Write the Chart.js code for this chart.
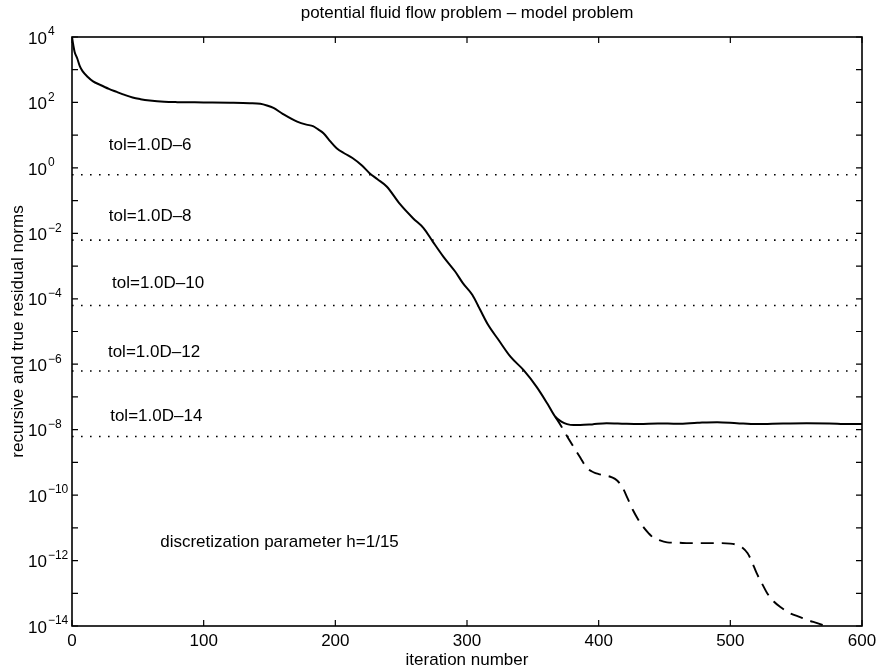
<!DOCTYPE html>
<html>
<head>
<meta charset="utf-8">
<script src="https://cdn.jsdelivr.net/npm/chart.js@4.4.1/dist/chart.umd.min.js"></script>
<style>
  html, body { margin: 0; padding: 0; background: #fff; }
  canvas { display: block; }
</style>
</head>
<body>
<canvas id="resChart" width="879" height="670"></canvas>
<script>
const FONT = '"Liberation Sans", Arial, Helvetica, sans-serif';

// recursive residual norm (solid line)
const recIter = [0, 1, 2, 4, 6, 8, 12, 16, 21, 28, 34, 40, 46, 52, 59, 70, 80, 100, 120, 135, 143, 148,
  153, 160, 171, 178, 183, 187, 191, 196, 201, 207, 213, 220, 226, 232, 239, 249, 259, 267, 274, 282,
  291, 297, 304, 310, 316, 324, 333, 343, 353, 361, 367, 372, 376, 381, 386, 395, 406, 420, 431, 445,
  460, 475, 490, 505, 520, 540, 558, 575, 590, 600];
const recNorm = [1e4, 5.6e3, 3.5e3, 2.2e3, 1.26e3, 9.1e2, 6.0e2, 4.4e2, 3.5e2, 2.6e2, 2.1e2, 1.7e2, 1.41e2, 1.26e2, 1.15e2, 1.05e2, 1.02e2, 1.0e2, 98, 95, 91, 81,
  68, 45, 26, 21, 19, 15, 11.5, 6.6, 4.0, 2.75, 2.0, 1.2, 0.69, 0.45, 0.27, 0.079, 0.029, 0.0145, 5.6e-3, 1.95e-3,
  6.8e-4, 2.95e-4, 1.32e-4, 4.6e-5, 1.6e-5, 5.5e-6, 1.7e-6, 6.6e-7, 2.0e-7, 6.3e-8, 2.5e-8, 1.74e-8, 1.48e-8, 1.38e-8, 1.38e-8, 1.45e-8, 1.58e-8, 1.51e-8, 1.48e-8, 1.55e-8,
  1.51e-8, 1.62e-8, 1.70e-8, 1.58e-8, 1.48e-8, 1.55e-8, 1.58e-8, 1.55e-8, 1.48e-8, 1.48e-8];

// true residual norm (dashed line), splits off the recursive one
const trueIter = [367, 371, 376, 381, 386, 391, 396, 400, 405, 410, 414, 418, 422, 426, 430, 434, 438, 441, 446, 452,
  460, 469, 480, 492, 500, 505, 509, 513, 516, 520, 524, 528, 533, 538, 545, 553, 560, 566, 572];
const trueNorm = [2.5e-8, 1.4e-8, 6.3e-9, 2.95e-9, 1.4e-9, 6.8e-10, 5.0e-10, 4.4e-10, 4.0e-10, 3.5e-10, 2.8e-10, 1.74e-10, 7.9e-11, 3.5e-11, 1.8e-11, 1.05e-11, 6.8e-12, 5.2e-12, 4.2e-12, 3.6e-12,
  3.5e-12, 3.4e-12, 3.4e-12, 3.4e-12, 3.3e-12, 3.0e-12, 2.5e-12, 1.7e-12, 1.0e-12, 4.1e-13, 2.0e-13, 1.0e-13, 5.6e-14, 3.8e-14, 2.5e-14, 1.86e-14, 1.45e-14, 1.23e-14, 1.0e-14];

// dotted tolerance levels and their labels
const tolLevels = [6.2e-1, 6.2e-3, 6.2e-5, 6.2e-7, 6.2e-9];
const tolNames = ['tol=1.0D\u20136', 'tol=1.0D\u20138', 'tol=1.0D\u201310', 'tol=1.0D\u201312', 'tol=1.0D\u201314'];
const tolLabelIter = [28, 28, 30.4, 27.3, 29];
const tolLabelNorm = [5.0, 0.032, 3.0e-4, 2.3e-6, 2.5e-8];

const xTicks = [0, 100, 200, 300, 400, 500, 600];
const yLabelExps = [4, 2, 0, -2, -4, -6, -8, -10, -12, -14];
const yMinExp = -14, yMaxExp = 4;

const pts = (xs, ys) => xs.map((v, i) => ({ x: v, y: ys[i] }));

const datasets = tolLevels.map(v => ({
  data: [{ x: 0, y: v }, { x: 600, y: v }],
  borderColor: '#000',
  borderWidth: 1.6,
  borderDash: [1.6, 7.4],
  pointRadius: 0
}));
datasets.push({
  data: pts(recIter, recNorm),
  borderColor: '#000',
  borderWidth: 2,
  cubicInterpolationMode: 'monotone',
  pointRadius: 0
});
datasets.push({
  data: pts(trueIter, trueNorm),
  borderColor: '#000',
  borderWidth: 1.9,
  borderDash: [13, 8],
  cubicInterpolationMode: 'monotone',
  pointRadius: 0
});

const frameAndText = {
  id: 'frameAndText',
  afterDatasetsDraw(chart) {
    const { ctx, chartArea: a, scales: { x, y } } = chart;
    ctx.save();
    ctx.strokeStyle = '#000';
    ctx.lineWidth = 1.6;
    ctx.strokeRect(a.left, a.top, a.right - a.left, a.bottom - a.top);

    // inward ticks on all four sides
    const t = 6;
    ctx.lineWidth = 1.2;
    ctx.beginPath();
    xTicks.forEach(v => {
      const px = x.getPixelForValue(v);
      ctx.moveTo(px, a.bottom); ctx.lineTo(px, a.bottom - t);
      ctx.moveTo(px, a.top); ctx.lineTo(px, a.top + t);
    });
    for (let e = yMinExp; e <= yMaxExp; e++) {
      const py = y.getPixelForValue(Math.pow(10, e));
      ctx.moveTo(a.left, py); ctx.lineTo(a.left + t, py);
      ctx.moveTo(a.right, py); ctx.lineTo(a.right - t, py);
    }
    ctx.stroke();

    ctx.fillStyle = '#000';
    // x tick labels
    ctx.font = '17px ' + FONT;
    ctx.textAlign = 'center';
    ctx.textBaseline = 'middle';
    xTicks.forEach(v => ctx.fillText(String(v), x.getPixelForValue(v), 641));

    // y tick labels 10^n
    yLabelExps.forEach(e => {
      const py = y.getPixelForValue(Math.pow(10, e));
      ctx.font = '17px ' + FONT;
      ctx.textAlign = 'left';
      ctx.textBaseline = 'middle';
      ctx.fillText('10', 28, py + 2);
      const w = ctx.measureText('10').width;
      ctx.font = '12px ' + FONT;
      ctx.fillText(String(e).replace('-', '\u2212'), 28 + w + 1, py - 5);
    });

    // annotations
    ctx.font = '17px ' + FONT;
    ctx.textAlign = 'left';
    tolNames.forEach((s, i) => {
      ctx.fillText(s, x.getPixelForValue(tolLabelIter[i]), y.getPixelForValue(tolLabelNorm[i]));
    });
    ctx.fillText('discretization parameter h=1/15', x.getPixelForValue(67), y.getPixelForValue(3.6e-12));

    // titles
    ctx.textAlign = 'center';
    ctx.fillText('potential fluid flow problem \u2013 model problem', (a.left + a.right) / 2, 13);
    ctx.fillText('iteration number', (a.left + a.right) / 2, 660);
    ctx.translate(18, (a.top + a.bottom) / 2);
    ctx.rotate(-Math.PI / 2);
    ctx.fillText('recursive and true residual norms', 0, 0);
    ctx.restore();
  }
};

new Chart(document.getElementById('resChart').getContext('2d'), {
  type: 'line',
  data: { datasets },
  options: {
    responsive: false,
    animation: false,
    layout: { padding: { top: 37, right: 17, left: 0, bottom: 0 } },
    plugins: { legend: { display: false }, tooltip: { enabled: false } },
    scales: {
      x: {
        type: 'linear', min: 0, max: 600,
        grid: { display: false }, border: { display: false },
        ticks: { display: false },
        afterFit: s => { s.height = 44; }
      },
      y: {
        type: 'logarithmic', min: 1e-14, max: 1e4,
        grid: { display: false }, border: { display: false },
        ticks: { display: false },
        afterFit: s => { s.width = 72; }
      }
    }
  },
  plugins: [frameAndText]
});
</script>
</body>
</html>
